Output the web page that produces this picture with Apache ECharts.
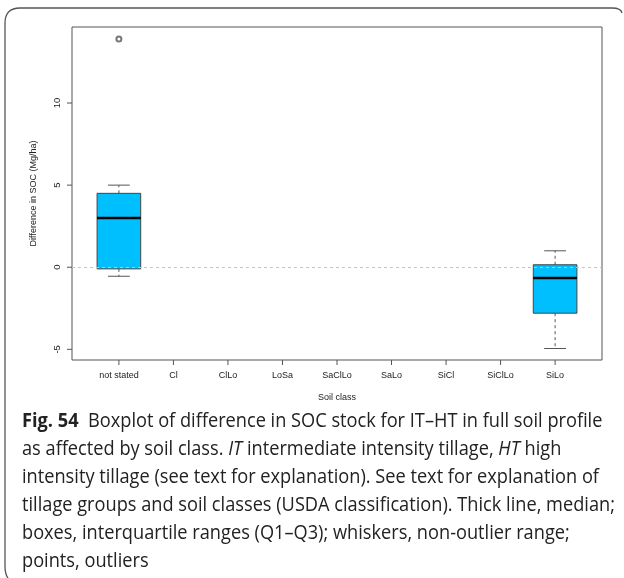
<!DOCTYPE html>
<html>
<head>
<meta charset="utf-8">
<script src="https://cdn.jsdelivr.net/npm/echarts@6/dist/echarts.min.js"></script>
<style>html,body{margin:0;padding:0;background:#fff}#c{width:624px;height:578px}</style>
</head>
<body>
<div id="c"></div>
<script>
// ---- data ----
const categories = ['not stated','Cl','ClLo','LoSa','SaClLo','SaLo','SiCl','SiClLo','SiLo'];
// [category index, lower whisker, Q1, median, Q3, upper whisker]
const boxStats = [
  [0, -0.55, -0.1, 3.0, 4.5, 5.0],
  [8, -4.95, -2.8, -0.65, 0.15, 1.0]
];
const outliers = [[0, 13.9]];
const yTicks = [-5, 0, 5, 10];
const yTickMin = -5, yTickMax = 10, yTickStep = 5;

const chart = echarts.init(document.getElementById('c'), null, {renderer: 'canvas'});
const axisFont = 'Liberation Sans, Arial, sans-serif';
const capFont = 'Open Sans, sans-serif';

// plot geometry (R default: x range 0.5..n+0.5 extended by 4%)
const yMin = -5.65, yMax = 14.63;
const xMin = -0.86, xMax = categories.length - 1 + 0.86;
const G = {left: 72, top: 27, width: 530, height: 333};
const pxX = G.width / (xMax - xMin);
const pxY = G.height / (yMax - yMin);

function renderBox(params, api) {
  const x = api.value(0);
  const lo = api.coord([x, api.value(1)]);
  const q1 = api.coord([x, api.value(2)]);
  const md = api.coord([x, api.value(3)]);
  const q3 = api.coord([x, api.value(4)]);
  const hi = api.coord([x, api.value(5)]);
  const bw = api.size([0.8, 0])[0];
  const cx = md[0];
  const half = bw / 2, cap = bw / 4;
  const wStyle = {stroke: '#555', lineWidth: 1, lineDash: [3, 3]};
  const cStyle = {stroke: '#555', lineWidth: 1};
  return {
    type: 'group',
    children: [
      {type: 'line', shape: {x1: cx, y1: q3[1], x2: cx, y2: hi[1]}, style: wStyle},
      {type: 'line', shape: {x1: cx, y1: q1[1], x2: cx, y2: lo[1]}, style: wStyle},
      {type: 'line', shape: {x1: cx - cap, y1: hi[1], x2: cx + cap, y2: hi[1]}, style: cStyle},
      {type: 'line', shape: {x1: cx - cap, y1: lo[1], x2: cx + cap, y2: lo[1]}, style: cStyle},
      {type: 'rect', shape: {x: cx - half, y: q3[1], width: bw, height: q1[1] - q3[1]},
        style: {fill: '#00BFFF', stroke: '#444', lineWidth: 1}},
      {type: 'line', shape: {x1: cx - half, y1: md[1], x2: cx + half, y2: md[1]},
        style: {stroke: '#000', lineWidth: 2.5}}
    ]
  };
}
// outward tick marks drawn through the main axes' scales
function renderXTick(params, api) {
  const p = api.coord([api.value(0), api.value(1)]);
  return {type: 'line', shape: {x1: p[0], y1: p[1], x2: p[0], y2: p[1] + 5}, style: {stroke: '#555', lineWidth: 1}};
}
function renderYTick(params, api) {
  const p = api.coord([api.value(0), api.value(1)]);
  return {type: 'line', shape: {x1: p[0] - 5, y1: p[1], x2: p[0], y2: p[1]}, style: {stroke: '#555', lineWidth: 1}};
}

const frameStyle = {fill: null, stroke: '#555', lineWidth: 1.3};
const txt = {fontSize: 9, color: '#222', fontFamily: axisFont};

const option = {
  backgroundColor: '#fff',
  animation: false,
  grid: [
    // main plotting region (frame)
    {left: G.left, top: G.top, width: G.width, height: G.height, show: true, borderColor: '#555', borderWidth: 1},
    // category label axis, same scale as main x axis
    {left: G.left + (-0.5 - xMin) * pxX, top: G.top, width: categories.length * pxX, height: G.height},
    // numeric label axis, same scale as main y axis
    {left: G.left, top: G.top + (yMax - yTickMax) * pxY, width: G.width, height: (yTickMax - yTickMin) * pxY}
  ],
  xAxis: [
    {gridIndex: 0, type: 'value', min: xMin, max: xMax, splitLine: {show: false},
      axisLine: {show: false, onZero: false}, axisTick: {show: false}, axisLabel: {show: false},
      name: 'Soil class', nameLocation: 'middle', nameGap: 33, nameTextStyle: txt},
    {gridIndex: 1, type: 'category', data: categories, boundaryGap: true, position: 'bottom',
      axisLine: {show: false, onZero: false}, axisTick: {show: false},
      axisLabel: Object.assign({interval: 0, margin: 11}, txt), splitLine: {show: false}},
    {gridIndex: 2, type: 'value', min: 0, max: 1, show: false}
  ],
  yAxis: [
    {gridIndex: 0, type: 'value', min: yMin, max: yMax, splitLine: {show: false},
      axisLine: {show: false, onZero: false}, axisTick: {show: false}, axisLabel: {show: false},
      name: 'Difference in SOC (Mg/ha)', nameLocation: 'middle', nameGap: 34, nameRotate: 90, nameTextStyle: txt},
    {gridIndex: 1, type: 'value', min: 0, max: 1, show: false},
    {gridIndex: 2, type: 'value', min: yTickMin, max: yTickMax, interval: yTickStep, splitLine: {show: false},
      position: 'left',
      axisLine: {show: false, onZero: false}, axisTick: {show: false},
      axisLabel: Object.assign({rotate: 90, margin: 10}, txt, {fontSize: 9.5})}
  ],
  series: [
    {
      type: 'custom', renderItem: renderBox, data: boxStats, xAxisIndex: 0, yAxisIndex: 0,
      encode: {x: 0, y: [1, 2, 3, 4, 5]}, z: 3, silent: true
    },
    {
      type: 'scatter', data: outliers, xAxisIndex: 0, yAxisIndex: 0, symbol: 'emptyCircle', symbolSize: 5,
      itemStyle: {color: '#555', borderColor: '#555', borderWidth: 0.8}, silent: true, z: 4,
      markLine: {
        silent: true, symbol: ['none', 'none'], label: {show: false},
        lineStyle: {type: [3, 3], color: '#c4c4c4', width: 1},
        data: [{yAxis: 0}]
      }
    },
    {
      type: 'custom', renderItem: renderXTick, xAxisIndex: 0, yAxisIndex: 0, clip: false, silent: true,
      data: categories.map((c, i) => [i, yMin]), encode: {x: 0, y: 1}
    },
    {
      type: 'custom', renderItem: renderYTick, xAxisIndex: 0, yAxisIndex: 0, clip: false, silent: true,
      data: yTicks.map(v => [xMin, v]), encode: {x: 0, y: 1}
    }
  ],
  graphic: [
    {type: 'line', shape: {x1: 20, y1: 8, x2: 612, y2: 8}, style: frameStyle, silent: true},
    {type: 'bezierCurve', shape: {x1: 20, y1: 8, cpx1: 5, cpy1: 8, x2: 5, y2: 23}, style: frameStyle, silent: true},
    {type: 'line', shape: {x1: 5, y1: 23, x2: 5, y2: 566}, style: frameStyle, silent: true},
    {type: 'bezierCurve', shape: {x1: 5, y1: 566, cpx1: 5, cpy1: 578, x2: 12, y2: 582}, style: frameStyle, silent: true},
    {type: 'bezierCurve', shape: {x1: 612, y1: 8, cpx1: 621, cpy1: 8, x2: 622, y2: 13}, style: frameStyle, silent: true}
  ]
};

// caption lines
const capLines = [
  [['b', 'Fig. 54'], ['n', '  Boxplot of difference in SOC stock for IT–HT in full soil profile']],
  [['n', 'as affected by soil class. '], ['i', 'IT'], ['n', ' intermediate intensity tillage, '], ['i', 'HT'], ['n', ' high']],
  [['n', 'intensity tillage (see text for explanation). See text for explanation of']],
  [['n', 'tillage groups and soil classes (USDA classification). Thick line, median;']],
  [['n', 'boxes, interquartile ranges (Q1–Q3); whiskers, non-outlier range;']],
  [['n', 'points, outliers']]
];
capLines.forEach((parts, k) => {
  option.graphic.push({
    type: 'text', x: 22, y: 411 + k * 28, scaleX: 0.91, silent: true,
    style: {
      text: parts.map(p => '{' + p[0] + '|' + p[1] + '}').join(''),
      rich: {
        n: {fontSize: 20, fontFamily: capFont, fill: '#222'},
        i: {fontSize: 20, fontFamily: capFont, fontStyle: 'italic', fill: '#222'},
        b: {fontSize: 20, fontFamily: capFont, fontWeight: 'bold', fill: '#222'}
      }
    }
  });
});

chart.setOption(option);
</script>
</body>
</html>
